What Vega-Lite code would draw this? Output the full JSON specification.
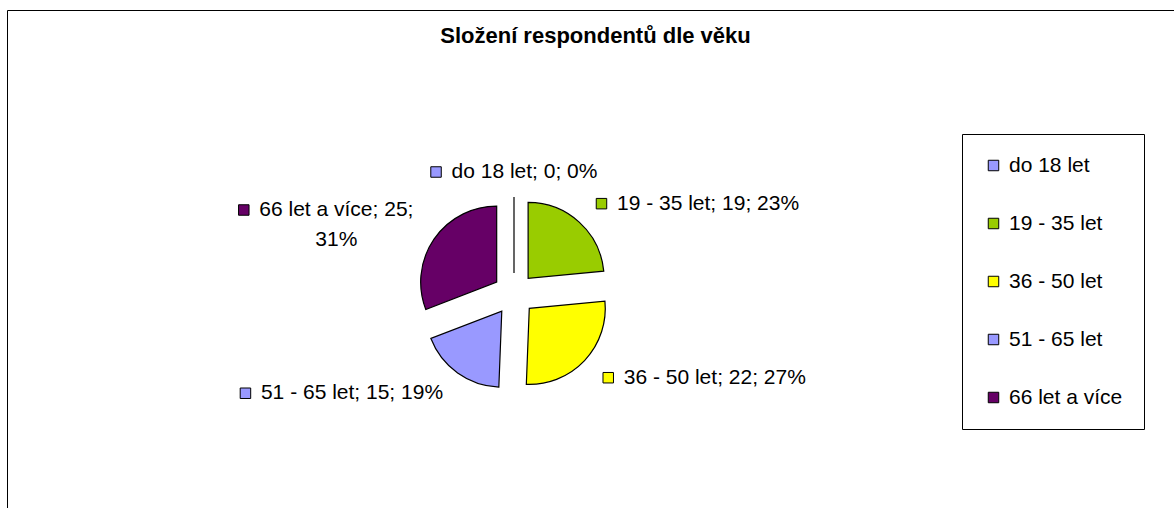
{
  "$schema": "https://vega.github.io/schema/vega-lite/v6.json",
  "autosize": {"type": "none"},
  "padding": {"left": 7, "top": 10, "right": -10, "bottom": -10},
  "width": 1177,
  "height": 508,
  "background": "white",
  "config": {
    "view": {"stroke": "black", "strokeWidth": 1},
    "font": "Liberation Sans"
  },
  "title": {
    "text": "Složení respondentů dle věku",
    "font": "Liberation Sans",
    "fontSize": 22,
    "fontWeight": "bold",
    "color": "black",
    "anchor": "middle",
    "frame": "group",
    "baseline": "alphabetic",
    "offset": -55
  },
  "data": {
    "values": [
      {"vek": "do 18 let", "pocet": 0},
      {"vek": "19 - 35 let", "pocet": 19},
      {"vek": "36 - 50 let", "pocet": 22},
      {"vek": "51 - 65 let", "pocet": 15},
      {"vek": "66 let a více", "pocet": 25}
    ]
  },
  "transform": [
    {"joinaggregate": [{"op": "sum", "field": "pocet", "as": "celkem"}]},
    {"window": [{"op": "sum", "field": "pocet", "as": "kum"}], "frame": [null, 0]},
    {"calculate": "2*PI*datum.kum/datum.celkem", "as": "a1"},
    {"calculate": "2*PI*(datum.kum-datum.pocet)/datum.celkem", "as": "a0"},
    {"calculate": "(datum.a0+datum.a1)/2", "as": "mid"},
    {"calculate": "21*sin(datum.mid)", "as": "ex"},
    {"calculate": "-21*cos(datum.mid)", "as": "ey"},
    {"calculate": "122*sin(datum.mid)", "as": "lx"},
    {"calculate": "-122*cos(datum.mid)", "as": "ly"},
    {"calculate": "format(datum.pocet/datum.celkem, '.0%')", "as": "pct"},
    {"calculate": "datum.vek + '; ' + datum.pocet + '; ' + datum.pct", "as": "zaklad"},
    {"calculate": "length(datum.zaklad) > 20 ? datum.vek + '; ' + datum.pocet + ';' : datum.zaklad", "as": "radek1"},
    {"calculate": "length(datum.zaklad) > 20 ? [datum.radek1, datum.pct] : datum.zaklad", "as": "popisek"},
    {"calculate": "length(datum.zaklad) > 20 ? 2 : 1", "as": "radku"},
    {"calculate": "21*(0.556*length(datum.radek1) - 0.278*length(replace(datum.radek1, regexp('[^ ;tí]','g'), '')) - 0.334*length(replace(datum.radek1, regexp('[^li]','g'), '')) - 0.223*length(replace(datum.radek1, regexp('[^-]','g'), '')) + 0.333*length(replace(datum.radek1, regexp('[^%]','g'), '')) - 0.056*length(replace(datum.radek1, regexp('[^vc]','g'), '')))", "as": "sirka"},
    {"calculate": "sin(datum.mid) > 0.2 ? 1 : (sin(datum.mid) < -0.2 ? -1 : 0)", "as": "strana"},
    {"calculate": "datum.lx - (datum.strana == 1 ? 0 : (datum.strana == 0 ? (21 + datum.sirka)/2 : 21 + datum.sirka))", "as": "levy"},
    {"calculate": "datum.levy + 21 + datum.sirka/2", "as": "tx"},
    {"calculate": "datum.levy + 5.5", "as": "sx"},
    {"calculate": "datum.ly - (datum.radku - 1)*15", "as": "ty"}
  ],
  "layer": [
    {
      "mark": {"type": "arc", "radius": 76, "stroke": "black", "strokeWidth": 1.2, "xOffset": 507, "yOffset": 284},
      "encoding": {
        "theta": {"field": "a0", "type": "quantitative", "scale": null},
        "theta2": {"field": "a1"},
        "x": {"field": "ex", "type": "quantitative", "scale": null},
        "y": {"field": "ey", "type": "quantitative", "scale": null},
        "color": {
          "field": "vek",
          "type": "nominal",
          "scale": {
            "domain": ["do 18 let", "19 - 35 let", "36 - 50 let", "51 - 65 let", "66 let a více"],
            "range": ["#9999FF", "#99CC00", "#FFFF00", "#9999FF", "#660066"]
          },
          "legend": {
            "title": null,
            "orient": "none",
            "legendX": 955,
            "legendY": 124,
            "strokeColor": "black",
            "fillColor": "white",
            "padding": 21,
            "rowPadding": 36,
            "symbolType": "square",
            "symbolSize": 110,
            "symbolStrokeColor": "black",
            "symbolStrokeWidth": 1,
            "symbolOpacity": 1,
            "symbolOffset": 0,
            "labelOffset": 5,
            "labelFont": "Liberation Sans",
            "labelFontSize": 21,
            "labelColor": "black",
            "labelLimit": 400
          }
        }
      }
    },
    {
      "mark": {"type": "point", "shape": "square", "size": 110, "filled": true, "opacity": 1, "stroke": "black", "strokeWidth": 1, "xOffset": 507, "yOffset": 284},
      "encoding": {
        "x": {"field": "sx", "type": "quantitative", "scale": null},
        "y": {"field": "ty", "type": "quantitative", "scale": null},
        "color": {"field": "vek", "type": "nominal", "legend": null}
      }
    },
    {
      "mark": {"type": "text", "font": "Liberation Sans", "fontSize": 21, "baseline": "middle", "align": "center", "lineHeight": 30, "fill": "black", "xOffset": 507, "yOffset": 284},
      "encoding": {
        "x": {"field": "tx", "type": "quantitative", "scale": null},
        "y": {"field": "ty", "type": "quantitative", "scale": null},
        "text": {"field": "popisek"}
      }
    }
  ]
}
